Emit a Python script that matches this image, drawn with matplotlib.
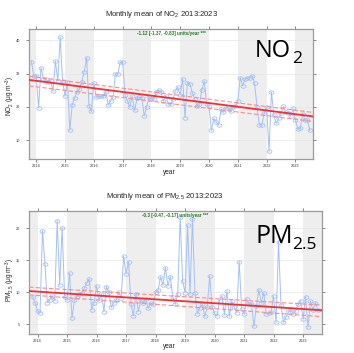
import numpy as np
import pandas as pd
import matplotlib
matplotlib.use('Agg')
import matplotlib.pyplot as plt
from matplotlib.path import Path

plt.rcParams['font.family'] = ['Liberation Sans', 'DejaVu Sans']
plt.rcParams['mathtext.fontset'] = 'custom'
plt.rcParams['mathtext.rm'] = 'Liberation Sans'
plt.rcParams['mathtext.it'] = 'Liberation Sans:italic'
plt.rcParams['mathtext.bf'] = 'Liberation Sans:bold'

# ---------------- data ----------------
months = pd.date_range('2013-11-01', '2023-07-01', freq='MS')

no2 = [33.6, 29.3,
       29.2, 19.7, 31.7, 28.5, 28.3, 27.6, 27.8, 24.7, 33.8, 27.8, 40.9, 27.8,
       23.2, 27.6, 12.9, 20.6, 22.7, 24.6, 25.3, 27.5, 30.5, 34.7, 20.3, 18.6,
       27.3, 22.8, 23.2, 23.1, 23.2, 24.5, 20.5, 21.8, 22.8, 29.9, 29.9, 33.4,
       33.4, 23.6, 21.8, 19.9, 23.1, 18.9, 22.5, 22.8, 22.7, 17.3, 19.9, 23.0,
       22.3, 22.3, 24.5, 25.0, 24.5, 21.6, 23.3, 20.8, 20.8, 22.3, 24.9, 25.9,
       23.6, 28.5, 16.7, 27.3, 26.9, 24.3, 22.4, 20.3, 20.9, 25.1, 27.7, 20.9,
       20.1, 12.9, 16.5, 15.5, 14.5, 19.3, 18.3, 19.6, 19.8, 18.8, 19.8, 20.1,
       21.8, 28.8, 26.3, 28.3, 28.7, 28.8, 29.3, 27.1, 19.8, 14.6, 14.6, 18.1,
       19.9, 6.6, 24.5, 17.4, 15.0, 16.5, 18.1, 20.1, 18.3, 18.1, 17.1, 19.5,
       16.1, 13.3, 13.7, 17.9, 15.9, 15.9, 12.9]

pm25 = [9.3, 8.4,
        7.1, 6.8, 19.6, 14.4, 8.4, 8.85, 9.4, 8.7, 21.2, 11.1, 20.1, 9.3,
        8.75, 12.97, 6.0, 8.8, 9.3, 9.8, 9.95, 10.6, 11.4, 12.1, 7.3, 8.4,
        11.0, 8.8, 9.7, 7.0, 10.9, 10.0, 7.65, 8.4, 8.75, 10.0, 9.06, 15.6,
        12.9, 14.8, 8.1, 6.35, 9.8, 7.0, 8.85, 8.3, 9.0, 7.5, 8.3, 8.1,
        10.0, 10.3, 12.4, 11.1, 13.85, 11.0, 12.45, 9.3, 8.1, 9.7, 21.7, 11.8,
        9.95, 20.5, 9.7, 21.5, 9.95, 6.66, 7.6, 8.1, 6.25, 7.7, 12.55, 7.7,
        6.7, 6.3, 8.7, 9.4, 6.5, 10.15, 6.25, 8.6, 7.7, 6.8, 14.8, 7.35,
        6.6, 8.95, 8.1, 8.2, 4.7, 7.9, 10.4, 8.3, 9.95, 6.66, 6.7, 6.98,
        9.4, 5.3, 17.9, 8.0, 5.3, 6.1, 6.9, 7.4, 6.6, 7.1, 8.1, 8.7,
        5.8, 9.3, 4.6, 8.6, 7.2, 8.4, 7.2]

tick_years = [2014, 2015, 2016, 2017, 2018, 2019, 2020, 2021, 2022, 2023]
shade_years = [2013, 2015, 2017, 2019, 2021, 2023]

# trend estimates (value at x-limits): mid, upper, lower
no2_xlim = [2013.75, 2023.61]
no2_trend = [28.1, 17.1]
no2_upper = [29.2, 18.3]
no2_lower = [26.3, 15.6]
no2_yticks = [10, 20, 30, 40]
no2_ylim = [4.3, 43.4]

pm_xlim = [2013.71, 2023.63]
pm_trend = [10.2, 7.2]
pm_upper = [10.8, 8.0]
pm_lower = [9.6, 6.2]
pm_yticks = [5, 10, 15, 20]
pm_ylim = [3.44, 22.75]

no2_label = '-1.12 [-1.37, -0.83] units/year ***'
pm_label = '-0.3 [-0.47, -0.17] units/year ***'

x = months.year + (months.month - 1) / 12.0

W, H = 354, 353
fig = plt.figure(figsize=(W / 100, H / 100), dpi=100)

def px(xp, yp):
    return xp / W, 1 - yp / H

theta = np.linspace(0, 2 * np.pi, 41)
ell = Path(np.c_[1.4 * np.cos(theta), np.sin(theta)], closed=True)

line_col = '#a3c0f6'

def panel(rect, vals, xlim, ylim, yticks, trend, upper, lower, label):
    l, r, t, b = rect
    ax = fig.add_axes([l / W, 1 - b / H, (r - l) / W, (b - t) / H])
    for yr in shade_years:
        ax.axvspan(yr, yr + 1, color='#eeeeee', lw=0, zorder=0)
    for yt in yticks:
        ax.axhline(yt, color='#e6e6e6', lw=0.5, zorder=0.5)
    ax.plot(x, vals, color=line_col, lw=0.7, zorder=2,
            marker=ell, ms=3.5, mfc='none', mec=line_col, mew=0.6)
    ax.plot(xlim, trend, color='#ff2a2a', lw=1.3, zorder=3)
    ax.plot(xlim, upper, color='#ff8a8a', lw=0.8, ls=(0, (4, 2)), zorder=3)
    ax.plot(xlim, lower, color='#ff8a8a', lw=0.8, ls=(0, (4, 2)), zorder=3)
    ax.set_xlim(xlim)
    ax.set_ylim(ylim)
    ax.set_xticks(tick_years)
    ax.set_xticklabels([str(y) for y in tick_years])
    ax.set_yticks(yticks)
    ax.tick_params(axis='both', direction='out', length=2.0, width=0.5,
                   color='#555555', labelsize=2.8, labelcolor='#333333',
                   top=True, right=True)
    ax.tick_params(axis='y', pad=4.3)
    ax.tick_params(axis='x', pad=1.6)
    for s in ax.spines.values():
        s.set_color('#9a9a9a')
        s.set_linewidth(0.9)
    ax.text(0.5, 0.985, label, transform=ax.transAxes, ha='center', va='top',
            fontsize=3.3, color='#1f7a1f', fontweight='bold')
    return ax

panel((29, 313, 29, 159), no2, no2_xlim, no2_ylim, no2_yticks,
      no2_trend, no2_upper, no2_lower, no2_label)
panel((29, 321.7, 210.7, 334.3), pm25, pm_xlim, pm_ylim, pm_yticks,
      pm_trend, pm_upper, pm_lower, pm_label)

# titles and labels
fig.text(*px(161.5, 15), 'Monthly mean of NO$_2$ 2013:2023', ha='center',
         va='center', fontsize=5.5, color='#222222')
fig.text(*px(165, 196), 'Monthly mean of PM$_{2.5}$ 2013:2023', ha='center',
         va='center', fontsize=5.5, color='#222222')
fig.text(*px(169.7, 172.7), 'year', ha='center', va='center', fontsize=4.7,
         color='#222222')
fig.text(*px(169.7, 346.7), 'year', ha='center', va='center', fontsize=4.7,
         color='#222222')
fig.text(*px(10.5, 96), 'NO$_2$ (μg m$^{-3}$)', ha='center', va='center',
         rotation=90, fontsize=4.7, color='#222222')
fig.text(*px(10.5, 280), 'PM$_{2.5}$ (μg m$^{-3}$)', ha='center', va='center',
         rotation=90, fontsize=4.7, color='#222222')

# big overlay labels
fig.text(*px(255, 56.7), 'NO', ha='left', va='baseline', fontsize=17,
         family='Open Sans', color='black')
fig.text(*px(292.5, 62.7), '2', ha='left', va='baseline', fontsize=12.5,
         family='Open Sans', color='black')
fig.text(*px(255, 243.3), 'PM', ha='left', va='baseline', fontsize=18,
         family='Open Sans', color='black')
fig.text(*px(292.5, 249), '2.5', ha='left', va='baseline', fontsize=12.5,
         family='Open Sans', color='black')

fig.savefig('out.png', dpi=100)
